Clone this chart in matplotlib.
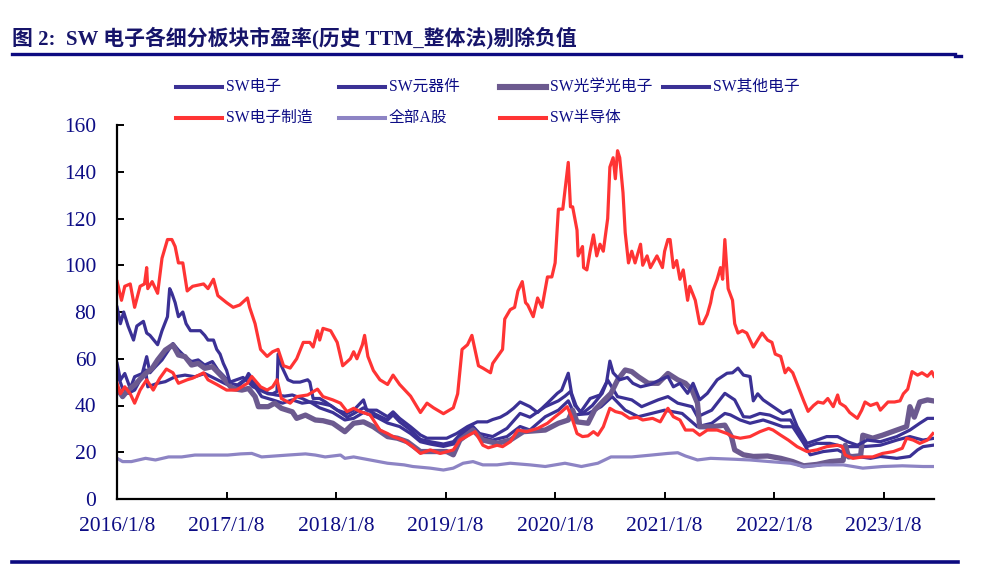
import matplotlib
matplotlib.use('Agg')
import matplotlib.pyplot as plt
from matplotlib.lines import Line2D

plt.rcParams['font.family'] = ['Liberation Serif', 'Noto Sans CJK SC', 'DejaVu Sans']

# --- data: (decimal year, P/E) ---
sw_dianzi = [(2016.02,58),(2016.05,50.9),(2016.09,53.7),(2016.14,47.3),(2016.18,52.3),(2016.25,53.7),(2016.29,60.9),(2016.32,54),(2016.37,56.6),(2016.43,59.5),(2016.49,63.7),(2016.53,66.5),(2016.58,63.7),(2016.64,60.9),(2016.70,58.8),(2016.76,59.5),(2016.82,57.3),(2016.89,58.8),(2016.94,55.2),(2017.00,52.3),(2017.05,49.5),(2017.12,48.8),(2017.22,52.3),(2017.28,48),(2017.34,43.8),(2017.44,42.4),(2017.53,41),(2017.62,42.4),(2017.71,41),(2017.80,41.6),(2017.87,41),(2017.97,40),(2018.06,37),(2018.12,35),(2018.18,36.5),(2018.27,39),(2018.39,36),(2018.49,33.8),(2018.54,36),(2018.60,33),(2018.70,29.5),(2018.79,25.5),(2018.88,24.5),(2019.00,23.5),(2019.09,24.5),(2019.18,29),(2019.27,31),(2019.33,28),(2019.45,26.7),(2019.58,30.2),(2019.70,36.6),(2019.79,35),(2019.93,39.5),(2020.05,42),(2020.11,44),(2020.16,46),(2020.20,40),(2020.27,36.6),(2020.36,40),(2020.45,45.2),(2020.50,50.9),(2020.59,43.8),(2020.72,42.4),(2020.81,39.5),(2020.96,42.4),(2021.05,43.8),(2021.14,41),(2021.27,39.5),(2021.32,35.2),(2021.45,38),(2021.57,45.2),(2021.66,42.4),(2021.74,35.2),(2021.80,35),(2021.89,36.6),(2021.98,35.9),(2022.08,33.8),(2022.17,33.8),(2022.24,28),(2022.32,22.4),(2022.41,23.8),(2022.53,23.8),(2022.65,22.4),(2022.83,22.4),(2022.99,23),(2023.14,25.2),(2023.26,26.7),(2023.38,25.2),(2023.47,25.9)]

sw_yuanqijian = [(2016.02,53.7),(2016.07,47.3),(2016.12,45.2),(2016.18,46.6),(2016.28,55.2),(2016.30,48),(2016.39,49.5),(2016.46,50.2),(2016.55,52.3),(2016.64,53),(2016.73,52.3),(2016.82,53.7),(2016.91,51.6),(2017.00,49.5),(2017.10,47.3),(2017.19,50.9),(2017.22,53.7),(2017.31,48),(2017.40,45.2),(2017.47,44.5),(2017.55,44),(2017.62,44.5),(2017.71,43),(2017.80,41),(2017.87,39),(2017.99,37),(2018.10,33.8),(2018.18,34.5),(2018.27,37),(2018.39,35),(2018.49,32.5),(2018.60,31),(2018.70,28),(2018.79,24.5),(2018.88,23.5),(2019.00,22.5),(2019.09,23.5),(2019.18,28),(2019.27,30),(2019.33,26.7),(2019.45,25.2),(2019.58,26.7),(2019.70,31),(2019.79,29.5),(2019.93,35.2),(2020.05,38),(2020.14,42),(2020.20,36),(2020.32,36.5),(2020.44,39.5),(2020.54,43.8),(2020.66,38),(2020.78,35.2),(2020.90,36.6),(2021.02,38),(2021.18,36.6),(2021.32,30.9),(2021.45,32.4),(2021.57,36.6),(2021.62,36),(2021.71,33.8),(2021.80,32.4),(2021.92,33.8),(2022.01,32.4),(2022.10,30.9),(2022.19,30.9),(2022.29,23.8),(2022.35,18.9),(2022.47,20.3),(2022.60,21),(2022.69,18.9),(2022.78,18.2),(2022.90,17.4),(2022.99,18.2),(2023.14,17.4),(2023.26,18.2),(2023.33,21),(2023.38,22.4),(2023.47,23)]

sw_guangxue = [(2016.02,47.3),(2016.07,43.8),(2016.12,46.6),(2016.18,48.8),(2016.28,53.7),(2016.34,55.9),(2016.39,59.5),(2016.46,63.7),(2016.53,65.9),(2016.58,61.6),(2016.64,60.9),(2016.70,57.3),(2016.76,58),(2016.82,55.9),(2016.89,56.6),(2016.98,52.3),(2017.07,47.3),(2017.16,46.6),(2017.22,47.3),(2017.28,43.8),(2017.31,39.5),(2017.40,39.5),(2017.46,41),(2017.52,38.8),(2017.62,37.3),(2017.66,34.5),(2017.74,35.9),(2017.83,33.8),(2017.90,33.5),(2017.99,32.4),(2018.10,28.8),(2018.18,32.4),(2018.27,33),(2018.36,30.9),(2018.49,26.7),(2018.58,26),(2018.67,24.5),(2018.79,20.3),(2018.91,20.3),(2019.03,20.3),(2019.09,18.9),(2019.15,25.2),(2019.27,29.5),(2019.36,25.2),(2019.49,23.8),(2019.61,25.2),(2019.73,28.8),(2019.93,29.5),(2020.05,32.4),(2020.14,33.8),(2020.18,38),(2020.22,33),(2020.32,32.4),(2020.38,38),(2020.47,42.4),(2020.53,45.2),(2020.59,50.9),(2020.66,55.2),(2020.72,54.5),(2020.78,52.3),(2020.87,49.5),(2020.96,49.5),(2021.05,53.7),(2021.14,51),(2021.21,49.5),(2021.27,46.6),(2021.32,41),(2021.34,30.9),(2021.45,30.9),(2021.57,31.6),(2021.63,26.7),(2021.66,21),(2021.74,18.9),(2021.83,18.2),(2021.96,18.4),(2022.08,17.4),(2022.19,16),(2022.29,14.2),(2022.41,14.8),(2022.53,16),(2022.65,16.5),(2022.67,23),(2022.70,18),(2022.81,18.5),(2022.83,27.3),(2022.92,26),(2023.01,27.3),(2023.14,29.5),(2023.23,31),(2023.26,39.5),(2023.30,35),(2023.35,41.5),(2023.42,42.4),(2023.47,42)]

sw_qita = [(2016.02,82),(2016.05,75),(2016.08,80),(2016.12,74),(2016.17,68),(2016.20,74),(2016.26,76),(2016.29,71),(2016.32,70),(2016.39,66),(2016.43,72),(2016.48,78),(2016.50,90),(2016.52,88),(2016.55,84),(2016.58,78),(2016.62,80),(2016.65,75),(2016.69,72),(2016.73,72),(2016.78,72),(2016.82,70),(2016.85,68),(2016.90,68),(2016.93,64),(2016.96,62),(2016.99,58),(2017.02,55),(2017.05,50),(2017.11,51),(2017.17,52),(2017.22,50),(2017.26,48),(2017.31,47),(2017.35,46),(2017.40,45),(2017.44,45),(2017.48,46),(2017.49,62),(2017.52,57),(2017.54,55),(2017.58,51),(2017.63,50),(2017.69,50),(2017.76,51),(2017.78,50),(2017.81,43),(2017.87,43),(2017.92,41.6),(2018.03,38),(2018.12,36.6),(2018.18,38),(2018.27,42.4),(2018.30,38),(2018.39,38),(2018.49,35.2),(2018.54,37.3),(2018.60,34.5),(2018.70,30.9),(2018.79,27.4),(2018.85,26),(2018.94,26),(2019.03,26),(2019.12,28),(2019.22,31),(2019.31,33),(2019.40,33),(2019.45,34),(2019.52,35),(2019.58,36.6),(2019.64,38.8),(2019.70,41.5),(2019.79,39.5),(2019.86,37),(2019.95,41),(2020.04,45.2),(2020.08,46.6),(2020.14,53.8),(2020.17,45.2),(2020.21,40),(2020.25,37),(2020.34,43),(2020.43,44.5),(2020.49,50),(2020.52,59),(2020.55,54),(2020.61,51),(2020.68,52),(2020.73,49.5),(2020.80,48),(2020.89,49),(2020.98,51),(2021.05,52.4),(2021.10,48),(2021.16,49.5),(2021.23,45.2),(2021.28,49.5),(2021.34,42.4),(2021.41,45.2),(2021.50,51),(2021.59,53.8),(2021.64,54),(2021.69,56),(2021.74,53),(2021.80,52.4),(2021.83,42),(2021.87,45),(2021.92,42.4),(2022.01,39.5),(2022.10,36.6),(2022.17,38),(2022.23,31),(2022.32,23.8),(2022.41,25.2),(2022.50,26.7),(2022.60,26.7),(2022.69,24.5),(2022.78,23),(2022.87,25.2),(2022.99,24.5),(2023.14,26.7),(2023.26,29.5),(2023.35,32.4),(2023.42,34.5),(2023.47,34.5)]

sw_zhizao = [(2016.02,49.5),(2016.05,45),(2016.09,48),(2016.14,45),(2016.18,41),(2016.23,46.6),(2016.29,51),(2016.35,46.6),(2016.41,51.7),(2016.47,55.6),(2016.53,54),(2016.58,49.5),(2016.66,51),(2016.71,51.7),(2016.81,54),(2016.85,51),(2016.93,49),(2017.02,46.6),(2017.11,46.6),(2017.21,49.5),(2017.25,52.4),(2017.33,48),(2017.39,46.6),(2017.44,48),(2017.48,51),(2017.52,43),(2017.60,41),(2017.66,43.8),(2017.76,44.5),(2017.85,47),(2017.90,43.8),(2017.99,42.4),(2018.06,41),(2018.12,37.4),(2018.18,38.8),(2018.24,37.4),(2018.33,36),(2018.42,29.5),(2018.49,28),(2018.54,26.7),(2018.63,25.2),(2018.72,22.4),(2018.79,19.5),(2018.88,21),(2018.97,19.5),(2019.09,21),(2019.15,25.2),(2019.24,27.5),(2019.29,28.8),(2019.36,23),(2019.41,21.9),(2019.49,23),(2019.54,22.4),(2019.61,24.5),(2019.68,29.5),(2019.76,28.8),(2019.86,30.2),(2019.95,32.4),(2020.02,35.2),(2020.08,37.4),(2020.13,39.5),(2020.17,35.2),(2020.22,28),(2020.27,26.7),(2020.32,27),(2020.37,28.8),(2020.41,27.3),(2020.46,30.9),(2020.52,38.8),(2020.57,37.4),(2020.63,36.7),(2020.70,34.5),(2020.77,35),(2020.82,33.8),(2020.91,34.5),(2020.98,33),(2021.05,38.8),(2021.10,35.2),(2021.16,33.8),(2021.21,29.5),(2021.28,29.5),(2021.34,27.3),(2021.41,29.5),(2021.50,29.5),(2021.59,28),(2021.64,26.7),(2021.71,26),(2021.80,26.7),(2021.89,28.8),(2021.97,30.2),(2022.01,29.5),(2022.08,27.3),(2022.15,25.2),(2022.23,22.4),(2022.32,20.3),(2022.41,21),(2022.50,22.4),(2022.60,23),(2022.64,22.5),(2022.67,18.8),(2022.74,17.4),(2022.83,18),(2022.92,18),(2023.01,19.5),(2023.11,20.3),(2023.19,21.7),(2023.23,26),(2023.29,25.2),(2023.35,23.8),(2023.42,25.2),(2023.47,28)]

all_a = [(2016.02,17.4),(2016.07,16),(2016.15,16),(2016.28,17.4),(2016.37,16.7),(2016.49,18),(2016.61,18),(2016.73,18.8),(2016.88,18.8),(2017.03,18.8),(2017.15,19.3),(2017.25,19.5),(2017.34,18),(2017.46,18.4),(2017.58,18.8),(2017.74,19.3),(2017.83,18.8),(2017.92,18),(2018.06,18.8),(2018.10,17.4),(2018.18,18),(2018.33,16.7),(2018.49,15.3),(2018.64,14.6),(2018.72,13.9),(2018.88,13.2),(2019.00,12.4),(2019.09,13.2),(2019.18,15.3),(2019.27,16),(2019.36,14.6),(2019.49,14.6),(2019.61,15.3),(2019.79,14.6),(2019.93,13.9),(2020.11,15.3),(2020.26,13.9),(2020.41,15.3),(2020.53,18),(2020.72,18),(2020.90,18.8),(2021.05,19.5),(2021.14,19.8),(2021.21,18.4),(2021.32,16.7),(2021.44,17.4),(2021.66,17),(2021.80,16.7),(2021.98,16),(2022.17,15.3),(2022.29,13.9),(2022.47,14.6),(2022.65,14.6),(2022.83,13.2),(2023.01,13.9),(2023.19,14.2),(2023.38,13.9),(2023.47,13.9)]

sw_bandaoti = [(2016.02,93),(2016.06,85),(2016.09,91),(2016.14,92),(2016.18,82),(2016.23,91),(2016.27,92),(2016.29,99),(2016.30,90),(2016.34,93),(2016.39,88),(2016.43,103),(2016.48,111),(2016.52,111),(2016.55,108),(2016.58,101),(2016.62,101),(2016.66,89),(2016.71,91),(2016.81,92),(2016.85,90),(2016.90,94),(2016.94,87),(2017.02,84),(2017.08,82),(2017.14,83),(2017.21,86),(2017.23,82),(2017.28,75),(2017.33,64),(2017.39,61),(2017.44,63),(2017.49,64),(2017.54,57),(2017.60,56),(2017.66,60),(2017.72,67),(2017.78,67),(2017.81,65),(2017.85,72),(2017.87,68),(2017.90,73),(2017.97,72),(2018.03,67),(2018.08,57),(2018.15,60),(2018.18,63),(2018.21,60),(2018.26,66),(2018.28,70),(2018.31,61),(2018.36,55),(2018.42,51),(2018.49,49),(2018.54,53),(2018.60,49),(2018.70,44),(2018.79,37),(2018.85,41),(2018.91,39),(2019.00,36.5),(2019.09,39),(2019.13,45),(2019.17,64),(2019.22,66),(2019.26,70),(2019.32,57),(2019.36,56),(2019.43,54),(2019.45,58),(2019.54,64),(2019.56,77),(2019.61,81),(2019.65,82),(2019.68,89),(2019.72,93),(2019.75,84),(2019.77,83),(2019.82,78),(2019.86,86),(2019.90,82),(2019.95,95),(2019.99,95),(2020.02,101),(2020.05,124),(2020.09,124),(2020.14,144),(2020.16,125),(2020.18,125),(2020.22,115),(2020.23,104),(2020.27,108),(2020.28,99),(2020.31,98),(2020.34,106),(2020.37,113),(2020.40,104),(2020.43,109),(2020.46,106),(2020.50,120),(2020.52,142),(2020.55,146),(2020.57,137),(2020.59,149),(2020.61,146),(2020.64,131),(2020.66,114),(2020.69,101),(2020.72,106),(2020.75,101),(2020.80,109),(2020.82,100),(2020.86,104),(2020.89,99),(2020.95,104),(2021.00,99),(2021.02,106),(2021.05,111),(2021.07,111),(2021.10,99),(2021.13,102),(2021.16,94),(2021.19,98),(2021.23,85),(2021.25,91),(2021.30,85),(2021.34,75),(2021.37,75),(2021.41,79),(2021.44,84),(2021.46,89),(2021.50,94),(2021.53,99),(2021.55,94),(2021.57,111),(2021.60,90),(2021.64,85),(2021.66,75),(2021.69,71),(2021.73,72),(2021.77,71),(2021.80,68),(2021.83,65),(2021.87,68),(2021.91,71),(2021.96,68),(2022.00,67),(2022.03,62),(2022.08,61),(2022.12,54),(2022.15,56),(2022.19,54),(2022.24,48),(2022.29,42),(2022.33,37.5),(2022.38,40),(2022.42,41.5),(2022.47,41),(2022.51,43),(2022.56,39.5),(2022.60,44.5),(2022.62,41),(2022.67,39.5),(2022.71,37),(2022.78,34.5),(2022.82,38),(2022.85,41.5),(2022.90,40),(2022.96,41),(2022.99,38),(2023.06,41.5),(2023.12,41.5),(2023.17,42),(2023.20,45),(2023.24,47),(2023.28,54.5),(2023.33,53),(2023.37,54),(2023.42,52.5),(2023.46,54.5),(2023.48,52.5)]

names = ['SW电子', 'SW元器件', 'SW光学光电子', 'SW其他电子', 'SW电子制造', '全部A股', 'SW半导体']
series = [sw_dianzi, sw_yuanqijian, sw_guangxue, sw_qita, sw_zhizao, all_a, sw_bandaoti]
colors = ['#3b3195', '#3b3195', '#6c5a8f', '#3b3195', '#ff3434', '#8d84c4', '#ff3434']
widths = [2.3, 2.3, 3.8, 2.3, 2.3, 2.3, 2.3]

years = list(range(2016, 2024))
tick_labels = [f'{y}/1/8' for y in years]

# --- figure ---
fig = plt.figure(figsize=(9.84, 5.69), dpi=100)
navy = '#0c0a80'
txt_col = '#0d0d85'

fig.text(0.012, 0.922, '图 2:  SW 电子各细分板块市盈率(历史 TTM_整体法)剔除负值',
         fontsize=15, fontweight='bold', color='#16146a', ha='left', va='baseline')
fig.add_artist(Line2D([0.012, 0.971], [0.905, 0.905], color=navy, lw=2.4))
fig.add_artist(Line2D([0.971, 0.977], [0.902, 0.902], color=navy, lw=2.4))
fig.add_artist(Line2D([0.012, 0.974], [0.012, 0.012], color=navy, lw=2.6))

ax = fig.add_axes([117/984, 70/569, 817/984, 374/569])
for pts, c, w in zip(series, colors, widths):
    xs = [p[0] for p in pts]
    ys = [p[1] for p in pts]
    ax.plot(xs, ys, color=c, lw=w, solid_joinstyle='round')

ax.set_xlim(2016.019, 2023.48)
ax.set_ylim(0, 160)
ax.set_yticks(range(0, 161, 20))
ax.set_xticks([y + 7/365 for y in years])
ax.set_xticklabels(tick_labels)
for s in ['top', 'right']:
    ax.spines[s].set_visible(False)
for s in ['left', 'bottom']:
    ax.spines[s].set_linewidth(1.6)
    ax.spines[s].set_color('black')
ax.tick_params(axis='both', direction='in', length=5, width=1.4, colors='black',
               labelsize=15.5, labelcolor=txt_col)
ax.tick_params(axis='y', pad=15)
ax.tick_params(axis='x', pad=13)

# --- legend (fixed column slots like the original) ---
col_x = [176, 339, 500, 663]
row_y = [87, 118]
for i, (nm, c, w) in enumerate(zip(names, colors, widths)):
    r, k = divmod(i, 4)
    x0 = col_x[k] / 984
    x1 = (col_x[k] + 46) / 984
    yy = 1 - row_y[r] / 569
    fig.add_artist(Line2D([x0, x1], [yy, yy], color=c, lw=w + 0.6))
    fig.text(x1 + 4/984, yy, nm, fontsize=11.3, color=txt_col, ha='left', va='center')

fig.savefig('out.png', dpi=100)
